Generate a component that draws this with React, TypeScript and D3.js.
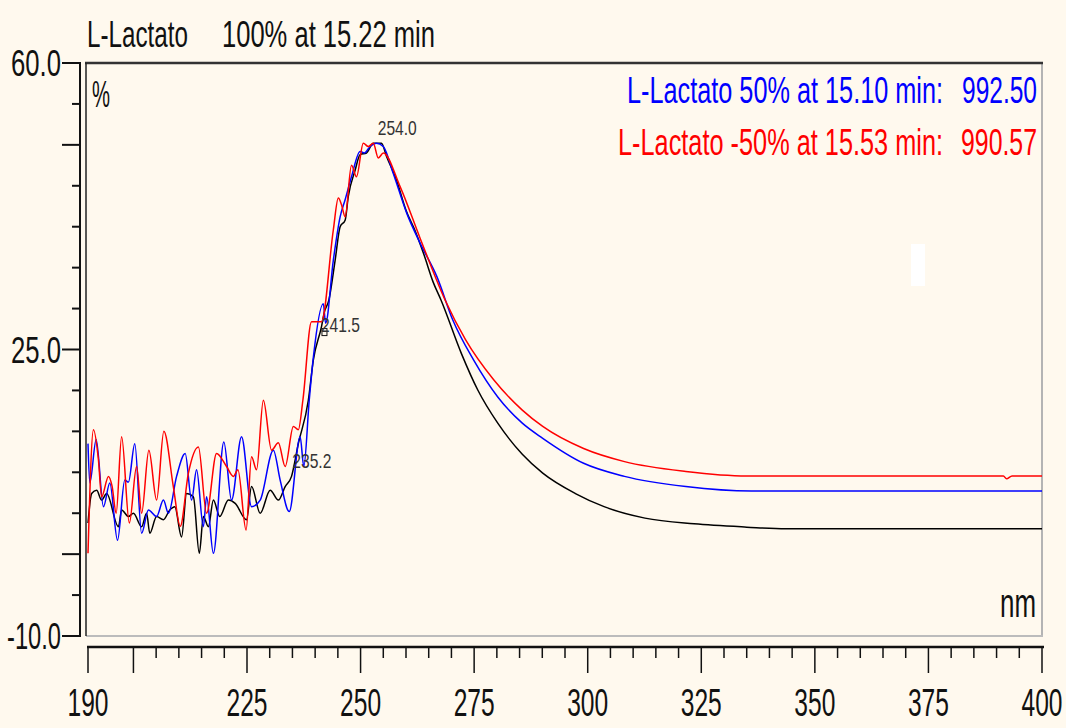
import React from "react";
import * as d3 from "d3";

const W = 1066;
const H = 728;

// wavelength (nm), absorbance (%)
const black: [number, number][] = [
  [190, 3.8], [190.8, 7.4], [191.9, 7.8], [193, 6.6], [194.1, 7.4], [196.7, 3.35], [197.4, 5.4],
  [198.9, 4.6], [200, 5.0], [201.8, 3.35], [202.9, 5.0], [203.6, 2.55], [205.1, 4.6], [206.6, 4.2],
  [208, 5.4], [209.1, 5.8], [210.6, 2.1], [211.7, 7.4], [213.2, 7.0], [214.5, 0.1], [215.4, 4.6],
  [216.5, 3.35], [217.6, 6.6], [219, 4.6], [220.9, 6.6], [222.4, 6.2], [224.9, 4.2], [226, 8.25],
  [227.9, 5.0], [230.1, 7.8], [231.9, 6.6], [233.4, 8.25], [234.8, 9.5], [236.3, 13.5], [238.5, 18.8],
  [239.6, 23.7], [241.4, 27.8], [242, 29.5], [243, 31], [244.4, 35.9], [245.5, 40.0], [246.6, 40.8],
  [247.3, 43.7], [248.8, 46.9], [249.9, 48.8], [251.3, 49.0], [252.8, 50.2], [254.6, 50.2], [255.7, 48.6],
  [257.9, 45.7], [260, 42], [262, 39.5], [264, 36.5], [266, 33.2], [267.7, 31.05], [272.2, 24.5],
  [275.8, 20.05], [280.2, 16.0], [285.6, 12.2], [290.1, 9.9], [297.3, 7.4], [303.6, 5.8], [312.6, 4.4],
  [323.4, 3.7], [335, 3.3], [343.6, 3.1], [400, 3.1],
];

const blue: [number, number][] = [
  [190, 13.5], [190.4, 8.7], [191.8, 14.0], [193.4, 5.8], [194.8, 8.7], [196.5, 1.7], [198.1, 9.05],
  [198.9, 8.8], [200.3, 13.5], [201.8, 2.55], [203.3, 5.4], [205.1, 4.6], [206.6, 6.6], [207.7, 5.0],
  [209.5, 9.5], [211.4, 12.3], [212.8, 6.6], [213.9, 10.3], [215.4, 3.35], [216.1, 7.0], [217.6, 0.1],
  [219.9, 13.7], [221.6, 6.6], [223.8, 14.35], [226, 5.8], [227.9, 6.6], [230.8, 12.7], [232.3, 9.05],
  [234.3, 5.2], [236.7, 14.35], [237.5, 10.7], [238.7, 18.8], [239.6, 24], [241.8, 30.6], [242.3, 28.2],
  [244, 35.9], [245.5, 41.2], [246.6, 43.3], [248, 46.1], [249.9, 49.2], [250.8, 49], [252.1, 49.8],
  [253.5, 50.2], [255, 49.8], [257.2, 46.5], [260.2, 41.6], [263.1, 38.0], [266.8, 33.9], [270.3, 28.6],
  [274.9, 23.7], [280.2, 19.2], [285.6, 16.0], [290.1, 14.15], [299.1, 11.1], [308.1, 9.5], [321.6, 8.25],
  [336, 7.7], [400, 7.7],
];

const red: [number, number][] = [
  [190, 0.1], [191.2, 15.2], [192.3, 11.5], [193, 7.0], [194.5, 9.5], [195.3, 8.3], [196.2, 5.0],
  [197.4, 14.35], [199.1, 3.8], [200.7, 10.7], [201.8, 5.0], [203.4, 12.7], [205.1, 6.6], [206.7, 15.0],
  [208.8, 8.2], [210.3, 3.4], [212.1, 9.9], [214.3, 13.1], [216.1, 5.0], [218.3, 12.3], [220.5, 10.7],
  [222, 9.5], [223, 10.3], [224.8, 2.95], [226, 11.9], [227.1, 10.3], [228.6, 18.8], [230.4, 12.7],
  [231.9, 13.6], [233.4, 10.7], [235.2, 15.6], [236.3, 15.2], [237.3, 18.8], [239.2, 28.4], [241.4, 28.4],
  [244, 39.6], [245.1, 43.5], [245.8, 42.7], [246.6, 41.2], [248, 47.5], [249.1, 46.1], [250.6, 50.2],
  [251.7, 49.8], [252.8, 50.2], [253.9, 48.4], [255, 49.0], [258.7, 44.9], [263.1, 38.6], [268.6, 31.05],
  [273.1, 26.2], [279.3, 21.3], [285.6, 17.6], [290.1, 15.6], [299.1, 12.9], [308.1, 11.3], [321.6, 10.1],
  [335, 9.55], [391.5, 9.55], [392.2, 9.2], [393.4, 9.55], [400, 9.55],
];

const xLabels = [190, 225, 250, 275, 300, 325, 350, 375, 400];
const yLabels = [60, 25, -10];

// peak labels: [nm, label baseline value, text]
const peaks: [number, number, string][] = [
  [254.0, 51.2, "254.0"],
  [241.5, 27.1, "241.5"],
  [235.2, 10.5, "235.2"],
];

const font = "'Liberation Sans', Arial, sans-serif";
const ink = "#111";

export default function App() {
  const left = 86, right = 1042, top = 63, bottom = 636;
  const x = d3.scaleLinear().domain([190, 400]).range([88, right]);
  const y = d3.scaleLinear().domain([-10, 60]).range([bottom, top]);

  const line = d3.line<[number, number]>()
    .x(d => x(d[0]))
    .y(d => y(d[1]))
    .curve(d3.curveMonotoneX);

  const axisY = 647;
  const xMajor = [190, ...d3.range(200, 401, 25)];
  const xMinor = d3.range(205, 400, 5).filter(v => v % 25 !== 0);
  const yTicks = d3.range(-10, 61, 5);

  return (
    <svg width={W} height={H} style={{ position: "absolute", left: 0, top: 0, display: "block" }}>
      <rect width={W} height={H} fill="#FFF9EE" />

      {/* frame */}
      <line x1={right} x2={right} y1={top} y2={bottom + 1} stroke="#b4b4b4" strokeWidth={2} />
      <line x1={left} x2={right + 1} y1={bottom} y2={bottom} stroke="#bcbcbc" strokeWidth={2} />
      <line x1={left - 1} x2={right + 1} y1={top} y2={top} stroke="#333" strokeWidth={2.5} />
      <line x1={left} x2={left} y1={top} y2={bottom} stroke="#222" strokeWidth={1.5} />

      {/* y axis */}
      <line x1={80} x2={80} y1={top - 1} y2={bottom + 1} stroke="#111" strokeWidth={2} />
      {yTicks.map(v => {
        const long = yLabels.includes(v) || v % 50 === 0;
        return <line key={v} x1={long ? 62 : 72} x2={80} y1={y(v)} y2={y(v)} stroke="#111" strokeWidth={2} />;
      })}
      {yLabels.map(v => (
        <text key={v} x={61} y={y(v) + 13} textAnchor="end" fontFamily={font} fontSize={37} fill={ink}
          textLength={v < 0 ? 54 : 50} lengthAdjust="spacingAndGlyphs">{v.toFixed(1)}</text>
      ))}

      {/* x axis */}
      <line x1={87} x2={1044} y1={axisY} y2={axisY} stroke="#111" strokeWidth={2.5} />
      {xMajor.map(v => (
        <line key={v} x1={x(v)} x2={x(v)} y1={axisY} y2={673} stroke="#111" strokeWidth={1.5} />
      ))}
      {xMinor.map(v => (
        <line key={v} x1={x(v)} x2={x(v)} y1={axisY} y2={658} stroke="#111" strokeWidth={1.5} />
      ))}
      {xLabels.map(v => (
        <text key={v} x={x(v)} y={716} textAnchor="middle" fontFamily={font} fontSize={38} fill={ink}
          textLength={41} lengthAdjust="spacingAndGlyphs">{v}</text>
      ))}

      {/* curves */}
      <path d={line(black) ?? ""} fill="none" stroke="#000" strokeWidth={1.5} />
      <path d={line(blue) ?? ""} fill="none" stroke="#0000ff" strokeWidth={1.5} />
      <path d={line(red) ?? ""} fill="none" stroke="#ff0000" strokeWidth={1.5} />

      {/* peak marker + labels */}
      <rect x={x(241.5)} y={y(27.8) + 2} width={5} height={7} fill="none" stroke="#111" strokeWidth={1} />
      {peaks.map(([nm, v, t]) => (
        <text key={t} x={x(nm) - 1} y={y(v)} fontFamily={font} fontSize={21} fill="#333"
          textLength={39} lengthAdjust="spacingAndGlyphs">{t}</text>
      ))}

      {/* texts */}
      <text x={87} y={47} fontFamily={font} fontSize={37} fill={ink} textLength={101} lengthAdjust="spacingAndGlyphs">L-Lactato</text>
      <text x={222} y={47} fontFamily={font} fontSize={37} fill={ink} textLength={213} lengthAdjust="spacingAndGlyphs">100% at 15.22 min</text>
      <text x={92} y={107} fontFamily={font} fontSize={37} fill={ink} textLength={18} lengthAdjust="spacingAndGlyphs">%</text>
      <text x={1000} y={617} fontFamily={font} fontSize={41} fill={ink} textLength={36} lengthAdjust="spacingAndGlyphs">nm</text>

      <text x={627} y={103} fontFamily={font} fontSize={37} fill="#0000ff" textLength={316} lengthAdjust="spacingAndGlyphs">L-Lactato 50% at 15.10 min:</text>
      <text x={962} y={103} fontFamily={font} fontSize={37} fill="#0000ff" textLength={75} lengthAdjust="spacingAndGlyphs">992.50</text>
      <text x={618} y={155} fontFamily={font} fontSize={37} fill="#ff0000" textLength={325} lengthAdjust="spacingAndGlyphs">L-Lactato -50% at 15.53 min:</text>
      <text x={961} y={155} fontFamily={font} fontSize={37} fill="#ff0000" textLength={76} lengthAdjust="spacingAndGlyphs">990.57</text>

      {/* small white artifact in the screenshot */}
      <rect x={911} y={244} width={14} height={42} fill="#ffffff" />
    </svg>
  );
}
